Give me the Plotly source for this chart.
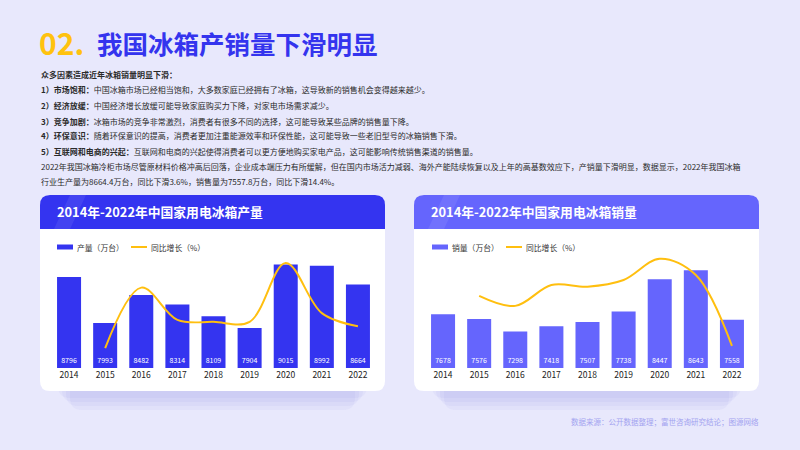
import plotly.graph_objects as go

W, H = 800, 450
FONT = "Noto Sans CJK SC"

years = ["2014", "2015", "2016", "2017", "2018", "2019", "2020", "2021", "2022"]
production = [8796, 7993, 8482, 8314, 8109, 7904, 9015, 8992, 8664]
prod_growth = [None, -9.1, 6.1, -2.0, -2.5, -2.5, 12.3, -0.3, -3.6]
sales = [7678, 7576, 7298, 7418, 7507, 7738, 8447, 8643, 7558]
sales_growth = [None, -1.3, -3.7, 1.3, 0.9, 2.5, 7.6, 3.7, -13.3]

# axis floors (value at the bottom of each plot area)
prod_floor, prod_top = 7205, 9180
sales_floor, sales_top = 6500, 8978

title_num = "02."
title_text = "我国冰箱产销量下滑明显"
left_title = "2014年-2022年中国家用电冰箱产量"
right_title = "2014年-2022年中国家用电冰箱销量"
left_bar_name = "产量（万台）"
right_bar_name = "销量（万台）"
line_name = "同比增长（%）"
source = "数据来源：公开数据整理；富世咨询研究结论；图源网络"
para = [
    "<b>众多因素造成近年冰箱销量明显下滑：</b>",
    "<b>1）市场饱和：</b>中国冰箱市场已经相当饱和，大多数家庭已经拥有了冰箱，这导致新的销售机会变得越来越少。",
    "<b>2）经济放缓：</b>中国经济增长放缓可能导致家庭购买力下降，对家电市场需求减少。",
    "<b>3）竞争加剧：</b>冰箱市场的竞争非常激烈，消费者有很多不同的选择，这可能导致某些品牌的销售量下降。",
    "<b>4）环保意识：</b>随着环保意识的提高，消费者更加注重能源效率和环保性能，这可能导致一些老旧型号的冰箱销售下滑。",
    "<b>5）互联网和电商的兴起：</b>互联网和电商的兴起使得消费者可以更方便地购买家电产品，这可能影响传统销售渠道的销售量。",
    "2022年我国冰箱冷柜市场尽管原材料价格冲高后回落，企业成本端压力有所缓解，但在国内市场活力减弱、海外产能陆续恢复以及上年的高基数效应下，产销量下滑明显，数据显示，2022年我国冰箱",
    "行业生产量为8664.4万台，同比下滑3.6%，销售量为7557.8万台，同比下滑14.4%。",
]
para_y = [75, 90, 105.5, 121, 136, 151.5, 166.5, 181.5]

BLUE = "#3434F0"
PURPLE = "#6565FD"
YELLOW = "#FFBF0F"
BG = "#E8E8FC"


def px(x):
    return x / W


def py(y):
    return 1 - y / H


def rrect(x0, y0, x1, y1, r, top_only=False):
    rx, ry = r / W, r / H
    X0, X1 = px(x0), px(x1)
    Y0, Y1 = py(y0), py(y1)
    p = f"M {X0+rx},{Y0} L {X1-rx},{Y0} Q {X1},{Y0} {X1},{Y0-ry} "
    if top_only:
        p += f"L {X1},{Y1} L {X0},{Y1} "
    else:
        p += f"L {X1},{Y1+ry} Q {X1},{Y1} {X1-rx},{Y1} L {X0+rx},{Y1} Q {X0},{Y1} {X0},{Y1+ry} "
    p += f"L {X0},{Y0-ry} Q {X0},{Y0} {X0+rx},{Y0} Z"
    return p


fig = go.Figure()

# Left chart
fig.add_trace(go.Bar(x=years, y=[v - prod_floor for v in production], base=prod_floor,
                     customdata=production, marker=dict(color=BLUE, line=dict(width=0)),
                     texttemplate="%{customdata}", textposition="inside", insidetextanchor="start",
                     textfont=dict(color="white", size=7, family=FONT), textangle=0,
                     xaxis="x", yaxis="y", showlegend=False, hoverinfo="skip"))
fig.add_trace(go.Scatter(x=years, y=prod_growth, mode="lines",
                         line=dict(color=YELLOW, width=2, shape="spline", smoothing=1),
                         xaxis="x", yaxis="y2", showlegend=False))
# Right chart
fig.add_trace(go.Bar(x=years, y=[v - sales_floor for v in sales], base=sales_floor,
                     customdata=sales, marker=dict(color=PURPLE, line=dict(width=0)),
                     texttemplate="%{customdata}", textposition="inside", insidetextanchor="start",
                     textfont=dict(color="white", size=7, family=FONT), textangle=0,
                     xaxis="x3", yaxis="y3", showlegend=False, hoverinfo="skip"))
fig.add_trace(go.Scatter(x=years, y=sales_growth, mode="lines",
                         line=dict(color=YELLOW, width=2, shape="spline", smoothing=1),
                         xaxis="x3", yaxis="y4", showlegend=False))

ydom = [py(368), py(255)]
xax = dict(showgrid=False, zeroline=False, showline=False, ticks="",
           tickfont=dict(size=8.5, color="#222", family=FONT), range=[-0.5, 8.5], fixedrange=True)
yax = dict(showgrid=False, zeroline=False, showline=False, showticklabels=False, domain=ydom)

fig.update_layout(
    width=W, height=H, margin=dict(l=0, r=0, t=0, b=0),
    paper_bgcolor=BG, plot_bgcolor="rgba(0,0,0,0)",
    bargap=0.335, showlegend=False, uniformtext=dict(minsize=7, mode="show"),
    font=dict(family=FONT),
    xaxis=dict(xax, domain=[px(51), px(376)], anchor="y"),
    yaxis=dict(yax, range=[prod_floor, prod_top], anchor="x"),
    yaxis2=dict(yax, range=[-14.1, 14.3], overlaying="y", anchor="x", side="right"),
    xaxis3=dict(xax, domain=[px(425), px(750)], anchor="y3"),
    yaxis3=dict(yax, range=[sales_floor, sales_top], anchor="x3"),
    yaxis4=dict(yax, range=[-18.6, 8.5], overlaying="y3", anchor="x3", side="right"),
)

shapes = []
for (cx0, cx1) in [(40, 385), (414, 759)]:
    for i in range(4):
        g = 4 + i * 4
        shapes.append(dict(type="path", path=rrect(cx0 + 14 + g, 215 + g, cx1 - 14 - g, 394 + g, 12),
                           xref="paper", yref="paper", fillcolor="rgba(90,90,210,0.05)",
                           line=dict(width=0), layer="below"))
for (cx0, cx1, hc) in [(40, 385, BLUE), (414, 759, PURPLE)]:
    shapes.append(dict(type="path", path=rrect(cx0, 195, cx1, 391, 10), xref="paper", yref="paper",
                       fillcolor="white", line=dict(width=0), layer="below"))
    shapes.append(dict(type="path", path=rrect(cx0, 195, cx1, 229, 10, top_only=True), xref="paper",
                       yref="paper", fillcolor=hc, line=dict(width=0), layer="below"))
    shapes.append(dict(type="path",
                       path=f"M {px(cx0+14)},{py(229)} L {px(cx0+30)},{py(195)} L {px(cx0+46)},{py(195)} L {px(cx0+30)},{py(229)} Z",
                       xref="paper", yref="paper", fillcolor="rgba(255,255,255,0.08)",
                       line=dict(width=0), layer="below"))

shapes.append(dict(type="rect", xref="paper", yref="paper", x0=px(57), x1=px(73), y0=py(249.5), y1=py(244.5),
                   fillcolor=BLUE, line=dict(width=0)))
shapes.append(dict(type="line", xref="paper", yref="paper", x0=px(131), x1=px(147), y0=py(247), y1=py(247),
                   line=dict(color=YELLOW, width=2)))
shapes.append(dict(type="rect", xref="paper", yref="paper", x0=px(432), x1=px(448), y0=py(249.5), y1=py(244.5),
                   fillcolor=PURPLE, line=dict(width=0)))
shapes.append(dict(type="line", xref="paper", yref="paper", x0=px(506), x1=px(522), y0=py(247), y1=py(247),
                   line=dict(color=YELLOW, width=2)))

ann = []


def text(x, y, t, size, color, anchor="left"):
    ann.append(dict(x=px(x), y=py(y), xref="paper", yref="paper", text=t, showarrow=False,
                    xanchor=anchor, yanchor="middle", font=dict(size=size, color=color, family=FONT)))


text(37, 42, f"<b>{title_num}</b>", 30, "#FFC20E")
text(95, 42, f"<b>{title_text}</b>", 25.5, "#3434EE")
for t, y in zip(para, para_y):
    text(39, y, t, 8.0, "#2a2a2a")
text(55, 212, f"<b>{left_title}</b>", 12.8, "white")
text(429, 212, f"<b>{right_title}</b>", 12.8, "white")
text(75, 247, left_bar_name, 7.8, "#333")
text(149, 247, line_name, 7.8, "#333")
text(450, 247, right_bar_name, 7.8, "#333")
text(524, 247, line_name, 7.8, "#333")
text(761, 421, source, 7.5, "#A3A3F0", anchor="right")

fig.update_layout(shapes=shapes, annotations=ann)
fig.write_html("out.html", config={"displayModeBar": False},
               post_script="document.body.style.margin='0';document.body.style.padding='0';document.body.style.overflow='hidden';")
